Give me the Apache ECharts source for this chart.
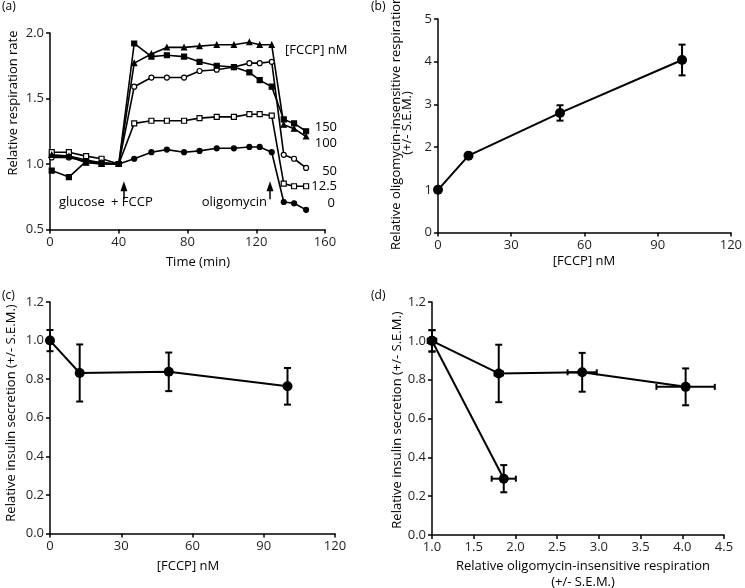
<!DOCTYPE html>
<html><head><meta charset="utf-8">
<script src="https://cdn.jsdelivr.net/npm/echarts@6/dist/echarts.min.js"></script>
<style>html,body{margin:0;padding:0;background:#fff}#c{width:745px;height:588px}</style>
</head><body><div id="c"></div><script>
// ---- Panel (a): respiration time course ----
const timeMin  = [1,11,21,30,40,49,59,68,78,87,97,107,116,122,129,136,142,149];
const rate0    = [1.06,1.06,1.03,1.01,1.00,1.04,1.09,1.11,1.09,1.10,1.12,1.12,1.13,1.13,1.09,0.71,0.70,0.65];
const rate12_5 = [1.09,1.09,1.06,1.04,1.00,1.31,1.33,1.33,1.33,1.35,1.36,1.36,1.38,1.38,1.37,0.85,0.83,0.83];
const rate50   = [1.05,1.05,1.02,1.01,1.00,1.59,1.66,1.66,1.66,1.71,1.72,1.74,1.77,1.77,1.78,1.07,1.04,0.97];
const rate100  = [1.07,1.06,1.01,1.00,1.00,1.77,1.84,1.89,1.89,1.90,1.91,1.91,1.93,1.91,1.91,1.30,1.27,1.21];
const rate150  = [0.95,0.90,1.02,1.00,1.00,1.92,1.82,1.83,1.82,1.78,1.75,1.74,1.70,1.64,1.59,1.34,1.31,1.25];
const fccpLabels = ['150','100','50','12.5','0'];
const xTicksA = [0,40,80,120,160];
const yTicksA = [0.5,1.0,1.5,2.0];

// ---- Panel (b): oligomycin-insensitive respiration vs FCCP ----
const fccpNM   = [0,12.5,50,100];
const oligoResp = [1.0,1.80,2.80,4.04];
const oligoRespErr = [0.04,0.05,0.18,0.36];

// ---- Panel (c): insulin secretion vs FCCP ----
const insulin    = [1.0,0.832,0.838,0.763];
const insulinErr = [0.055,0.148,0.10,0.095];

// ---- Panel (d): insulin secretion vs respiration ----
const dRespX    = [1.0,1.80,2.80,4.04];
const dRespXErr = [0.05,0.05,0.175,0.35];
const dOligoX   = [1.0,1.86];
const dOligoXErr= [0.05,0.145];
const dOligoY   = [1.0,0.29];
const dOligoYErr= [0.055,0.07];

const FONT = 'Open Sans';
const txt = {color:'#231f20', fontFamily:FONT, fontSize:13};

function axisBase(extra){
  return Object.assign({
    type:'value',
    axisLine:{show:true,lineStyle:{color:'#000',width:1.5}},
    axisTick:{show:true,inside:false,length:4,lineStyle:{color:'#000',width:1.5}},
    axisLabel:Object.assign({margin:6},txt),
    splitLine:{show:false}
  }, extra);
}

function errY(gi, xs, ys, es){
  return {type:'custom', xAxisIndex:gi, yAxisIndex:gi, z:3,
    data: xs.map((x,i)=>[x, ys[i]-es[i], ys[i]+es[i]]),
    renderItem:(p,api)=>{
      const lo=api.coord([api.value(0),api.value(1)]);
      const hi=api.coord([api.value(0),api.value(2)]);
      const w=3.5;
      const st={stroke:'#000',lineWidth:2};
      return {type:'group',children:[
        {type:'line',shape:{x1:lo[0],y1:lo[1],x2:hi[0],y2:hi[1]},style:st},
        {type:'line',shape:{x1:lo[0]-w,y1:lo[1],x2:lo[0]+w,y2:lo[1]},style:st},
        {type:'line',shape:{x1:hi[0]-w,y1:hi[1],x2:hi[0]+w,y2:hi[1]},style:st}
      ]};
    }};
}
function errX(gi, xs, ys, es){
  return {type:'custom', xAxisIndex:gi, yAxisIndex:gi, z:3,
    data: xs.map((x,i)=>[x-es[i], x+es[i], ys[i]]),
    renderItem:(p,api)=>{
      const lo=api.coord([api.value(0),api.value(2)]);
      const hi=api.coord([api.value(1),api.value(2)]);
      const h=3;
      const st={stroke:'#000',lineWidth:2};
      return {type:'group',children:[
        {type:'line',shape:{x1:lo[0],y1:lo[1],x2:hi[0],y2:hi[1]},style:st},
        {type:'line',shape:{x1:lo[0],y1:lo[1]-h,x2:lo[0],y2:lo[1]+h},style:st},
        {type:'line',shape:{x1:hi[0],y1:hi[1]-h,x2:hi[0],y2:hi[1]+h},style:st}
      ]};
    }};
}

function lineA(vals, symbol, filled, extra){
  return Object.assign({type:'line', xAxisIndex:0, yAxisIndex:0,
    data: timeMin.map((t,i)=>[t,vals[i]]),
    symbol:symbol, symbolSize: 5, showAllSymbol:true,
    lineStyle:{color:'#000',width:1.6},
    itemStyle:{color: filled?'#000':'#fff', borderColor:'#000', borderWidth:1.2}
  }, extra||{});
}
function lineDot(gi, xs, ys){
  return {type:'line', xAxisIndex:gi, yAxisIndex:gi, z:4,
    data: xs.map((x,i)=>[x,ys[i]]), symbol:'circle', symbolSize:10,
    lineStyle:{color:'#000',width:2}, itemStyle:{color:'#000'}};
}

const chart = echarts.init(document.getElementById('c'), null, {renderer:'canvas'});
const option = {
  animation:false,
  backgroundColor:'#fff',
  grid:[
    {left:50, top:33, width:275, height:196.5},
    {left:438, top:19, width:294, height:213.5},
    {left:50, top:302, width:285, height:231.5},
    {left:432, top:302, width:292, height:233}
  ],
  xAxis:[
    axisBase({gridIndex:0, min:xTicksA[0], max:xTicksA[xTicksA.length-1], interval:40}),
    axisBase({gridIndex:1, min:0, max:120, interval:30}),
    axisBase({gridIndex:2, min:0, max:120, interval:30}),
    axisBase({gridIndex:3, min:1.0, max:4.5, interval:0.5, axisLabel:Object.assign({margin:6, formatter:v=>v.toFixed(1)},txt)})
  ],
  yAxis:[
    axisBase({gridIndex:0, min:yTicksA[0], max:yTicksA[yTicksA.length-1], interval:0.5, axisLabel:Object.assign({margin:6, formatter:v=>v.toFixed(1)},txt)}),
    axisBase({gridIndex:1, min:0, max:5, interval:1}),
    axisBase({gridIndex:2, min:0, max:1.2, interval:0.2, axisLabel:Object.assign({margin:6, formatter:v=>v.toFixed(1)},txt)}),
    axisBase({gridIndex:3, min:0, max:1.2, interval:0.2, axisLabel:Object.assign({margin:6, formatter:v=>v.toFixed(1)},txt)})
  ],
  series:[
    lineA(rate0,'circle',true, {
      markLine:{silent:true, symbol:['none','triangle'], symbolSize:[7,10], label:{show:false},
        lineStyle:{color:'#000',width:1.5,type:'solid'},
        data:[
          [{coord:[43,0.73]},{coord:[43,0.83]}],
          [{coord:[128,0.73]},{coord:[128,0.83]}]
        ]}
    }),
    lineA(rate12_5,'rect',false),
    lineA(rate50,'circle',false),
    lineA(rate100,'triangle',true),
    lineA(rate150,'rect',true),
    // panel b
    errY(1, fccpNM, oligoResp, oligoRespErr),
    lineDot(1, fccpNM, oligoResp),
    // panel c
    errY(2, fccpNM, insulin, insulinErr),
    lineDot(2, fccpNM, insulin),
    // panel d
    errY(3, dRespX, insulin, insulinErr),
    errX(3, dRespX, insulin, dRespXErr),
    errY(3, dOligoX, dOligoY, dOligoYErr),
    errX(3, dOligoX, dOligoY, dOligoXErr),
    lineDot(3, dRespX, insulin),
    lineDot(3, dOligoX, dOligoY)
  ],
  graphic:[
    // panel letters
    {type:'text', left:2, top:1, style:Object.assign({text:'(a)'},txt,{fontSize:12})},
    {type:'text', left:371, top:1, style:Object.assign({text:'(b)'},txt,{fontSize:12})},
    {type:'text', left:2, top:290, style:Object.assign({text:'(c)'},txt,{fontSize:12})},
    {type:'text', left:371, top:290, style:Object.assign({text:'(d)'},txt,{fontSize:12})},
    // panel a titles & annotations
    {type:'text', x:13, y:103, rotation:Math.PI/2, style:Object.assign({text:'Relative respiration rate', align:'center', verticalAlign:'middle'},txt)},
    {type:'text', x:198, y:262, style:Object.assign({text:'Time (min)', align:'center', verticalAlign:'middle'},txt)},
    {type:'text', x:59, y:202, style:Object.assign({text:'glucose', align:'left', verticalAlign:'middle'},txt)},
    {type:'text', x:111, y:202, style:Object.assign({text:'+ FCCP', align:'left', verticalAlign:'middle'},txt)},
    {type:'text', x:267, y:202, style:Object.assign({text:'oligomycin', align:'right', verticalAlign:'middle'},txt)},
    {type:'text', x:285, y:50, style:Object.assign({text:'[FCCP] nM', align:'left', verticalAlign:'middle'},txt)},
    {type:'text', x:337, y:127, style:Object.assign({text:fccpLabels[0], align:'right', verticalAlign:'middle'},txt)},
    {type:'text', x:337, y:143, style:Object.assign({text:fccpLabels[1], align:'right', verticalAlign:'middle'},txt)},
    {type:'text', x:337, y:171, style:Object.assign({text:fccpLabels[2], align:'right', verticalAlign:'middle'},txt)},
    {type:'text', x:337, y:186, style:Object.assign({text:fccpLabels[3], align:'right', verticalAlign:'middle'},txt)},
    {type:'text', x:335, y:203, style:Object.assign({text:fccpLabels[4], align:'right', verticalAlign:'middle'},txt)},
    // panel b titles
    {type:'text', x:396, y:123, rotation:Math.PI/2, style:Object.assign({text:'Relative oligomycin-insensitive respiration', align:'center', verticalAlign:'middle'},txt)},
    {type:'text', x:407, y:123, rotation:Math.PI/2, style:Object.assign({text:'(+/- S.E.M.)', align:'center', verticalAlign:'middle'},txt)},
    {type:'text', x:584, y:261, style:Object.assign({text:'[FCCP] nM', align:'center', verticalAlign:'middle'},txt)},
    // panel c titles
    {type:'text', x:11, y:413, rotation:Math.PI/2, style:Object.assign({text:'Relative insulin secretion (+/- S.E.M.)', align:'center', verticalAlign:'middle'},txt)},
    {type:'text', x:188, y:566, style:Object.assign({text:'[FCCP] nM', align:'center', verticalAlign:'middle'},txt)},
    // panel d titles
    {type:'text', x:397, y:420, rotation:Math.PI/2, style:Object.assign({text:'Relative insulin secretion (+/- S.E.M.)', align:'center', verticalAlign:'middle'},txt)},
    {type:'text', x:583, y:566, style:Object.assign({text:'Relative oligomycin-insensitive respiration', align:'center', verticalAlign:'middle'},txt)},
    {type:'text', x:583, y:582, style:Object.assign({text:'(+/- S.E.M.)', align:'center', verticalAlign:'middle'},txt)}
  ]
};
chart.setOption(option);
</script></body></html>
